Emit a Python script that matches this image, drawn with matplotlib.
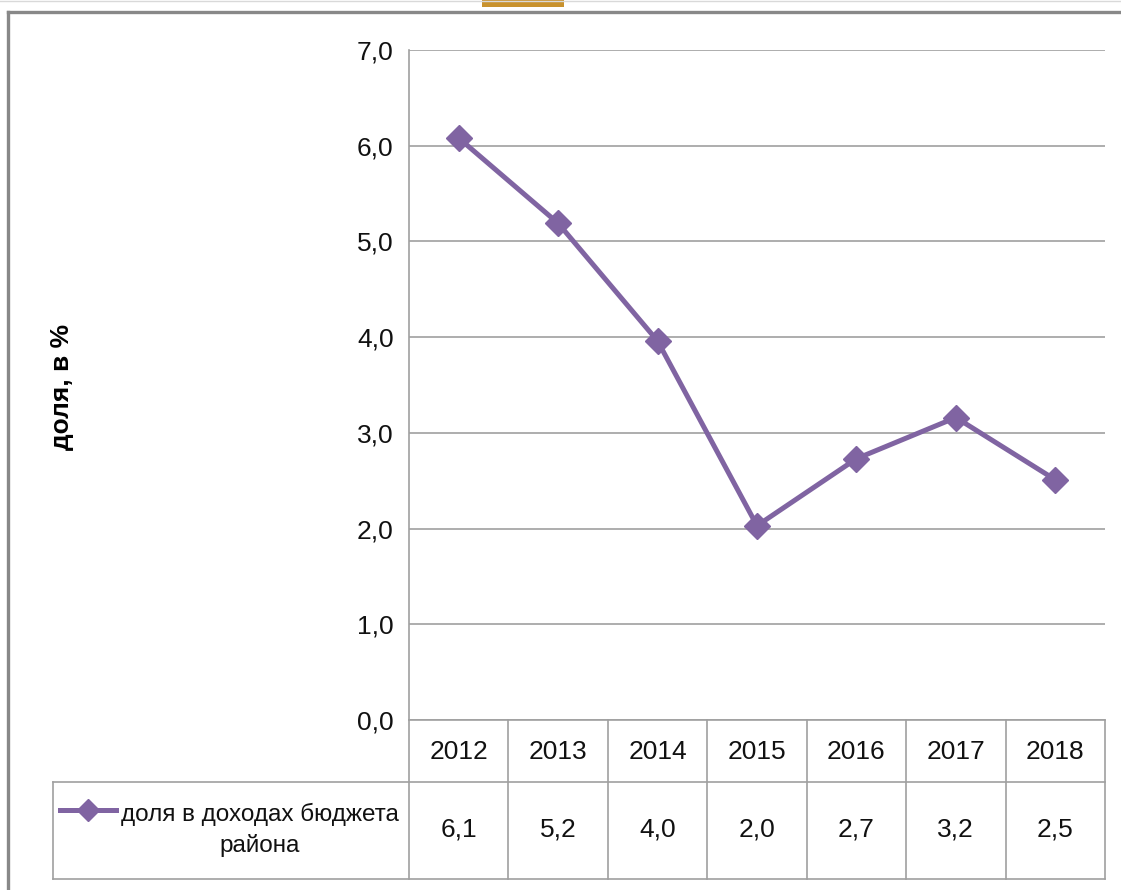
import numpy as np
import matplotlib
matplotlib.use("Agg")
import matplotlib.pyplot as plt
from matplotlib.lines import Line2D
from matplotlib.patches import Rectangle
import matplotlib.ticker as ticker

# data
years = ['2012', '2013', '2014', '2015', '2016', '2017', '2018']
share = [6.08, 5.19, 3.96, 2.03, 2.73, 3.16, 2.51]
series_name = 'доля в доходах бюджета\nрайона'
y_label = 'доля, в %'
y_ticks = [0, 1, 2, 3, 4, 5, 6, 7]

narrow = ['Liberation Sans Narrow', 'Liberation Sans', 'DejaVu Sans']
purple = '#8064A2'
grid_c = '#A0A0A0'

W, H = 1121, 890
fig = plt.figure(figsize=(W / 100, H / 100), dpi=100)

def fx(px):
    return px / W

def fy(py):
    return 1 - py / H

# plot area
left, right, top, bottom = 409, 1105, 50, 720
ax = fig.add_axes([fx(left), fy(bottom), fx(right - left), (bottom - top) / H])

x = np.arange(len(years))
ax.plot(x, share, color=purple, lw=3.6, marker='D', ms=13, mfc=purple, mec=purple,
        zorder=3, solid_joinstyle='miter')

ax.set_xlim(-0.5, len(years) - 0.5)
ax.set_ylim(0, 7)
ax.set_yticks(y_ticks)
ax.yaxis.set_major_formatter(ticker.FuncFormatter(lambda v, p: f'{v:.1f}'.replace('.', ',')))
ax.set_xticks([])
ax.grid(axis='y', color=grid_c, lw=1.2)
ax.set_axisbelow(True)
for s in ['top', 'right']:
    ax.spines[s].set_visible(False)
for s in ['left', 'bottom']:
    ax.spines[s].set_color(grid_c)
    ax.spines[s].set_linewidth(1.2)
ax.tick_params(axis='y', length=0, pad=11)
for lab in ax.get_yticklabels():
    lab.set_fontfamily(narrow)
    lab.set_fontsize(19)
    lab.set_color('#111111')

# y label
fig.text(fx(62), fy(387), y_label, rotation=90, ha='center', va='center',
         fontsize=19, fontweight='bold', family=['Liberation Sans', 'DejaVu Sans'])

# data table under the plot
row1, row2, row3 = 720, 782, 879
leg_left = 53
col_w = (right - left) / len(years)

def hline(y, x0, x1):
    fig.add_artist(Line2D([fx(x0), fx(x1)], [fy(y), fy(y)], color=grid_c, lw=1.2))

def vline(xp, y0, y1):
    fig.add_artist(Line2D([fx(xp), fx(xp)], [fy(y0), fy(y1)], color=grid_c, lw=1.2))

hline(row2, leg_left, right)
hline(row3, leg_left, right)
vline(leg_left, row2, row3)
for i in range(len(years) + 1):
    vline(left + i * col_w, row1, row3)

for i, (yr, v) in enumerate(zip(years, share)):
    cx = left + (i + 0.5) * col_w
    fig.text(fx(cx), fy((row1 + row2) / 2 + 1), yr, ha='center', va='center',
             fontsize=19, family=narrow, color='#111111')
    fig.text(fx(cx), fy((row2 + row3) / 2 - 1), f'{v:.1f}'.replace('.', ','),
             ha='center', va='center', fontsize=19, family=narrow, color='#111111')

# legend key inside the table
fig.add_artist(Line2D([fx(60), fx(116)], [fy(810), fy(810)], color=purple, lw=3.6))
fig.add_artist(Line2D([fx(88)], [fy(810)], color=purple, marker='D', ms=11,
                      mfc=purple, mec=purple, lw=0))
fig.text(fx(260), fy(830), series_name, ha='center', va='center', fontsize=17.5,
         family=narrow, color='#111111', linespacing=1.4)

# outer chart frame and page bits
fig.add_artist(Line2D([fx(8), fx(W)], [fy(12), fy(12)], color='#888888', lw=2.4))
fig.add_artist(Line2D([fx(8), fx(8)], [fy(12), fy(H)], color='#888888', lw=2.4))
fig.add_artist(Line2D([0, 1], [fy(0.5), fy(0.5)], color='#D9D9D9', lw=1))
fig.add_artist(Rectangle((fx(482), fy(7)), fx(82), 7 / H, transform=fig.transFigure,
                         color='#C8922E', lw=0))

fig.savefig('out.png', dpi=100)
